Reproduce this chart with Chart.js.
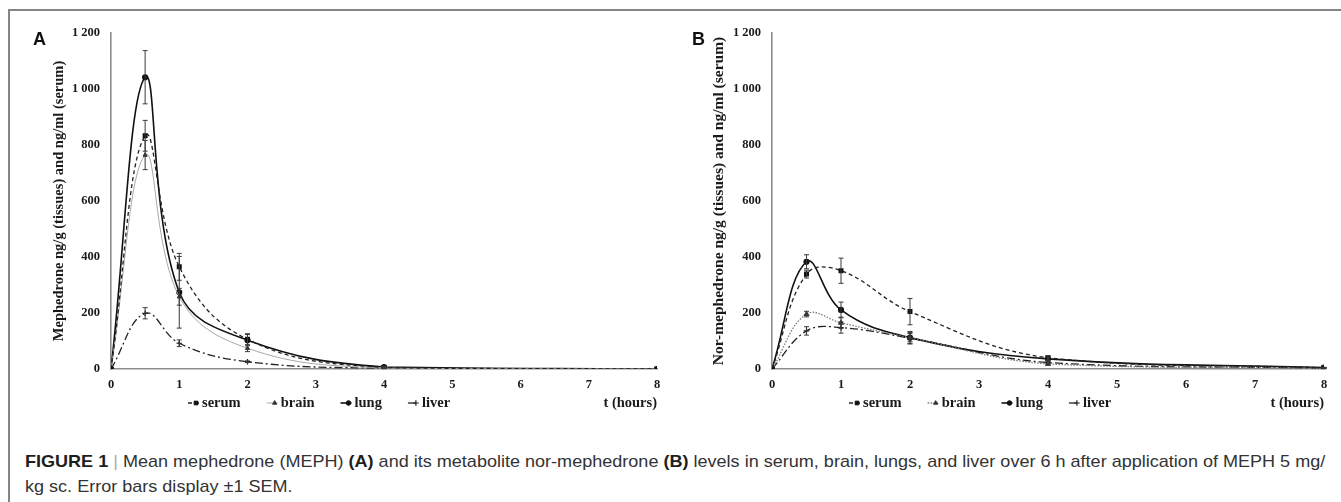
<!DOCTYPE html>
<html>
<head>
<meta charset="utf-8">
<script src="https://cdn.jsdelivr.net/npm/chart.js@4.4.1/dist/chart.umd.min.js"></script>
<style>
  body { margin: 0; background: #fff; width: 1341px; height: 502px; overflow: hidden; position: relative; }
  .frame-top { position: absolute; left: 9px; top: 9px; width: 1332px; height: 2px; background: #858585; }
  .frame-left { position: absolute; left: 8px; top: 9px; width: 2px; height: 493px; background: #858585; }
  canvas { position: absolute; top: 0; }
  #chartA { left: 0; }
  #chartB { left: 670px; }
  .panel { position: absolute; top: 30px; font: bold 18px "Liberation Sans", Arial, sans-serif; line-height: 18px; color: #111; }
  .cap-line { position: absolute; left: 25px; white-space: nowrap; font: 17px "Liberation Sans Narrow", "Liberation Sans", Arial, sans-serif;
              line-height: 25px; color: #333; transform-origin: 0 0; }
  .cap-line b { color: #1e1e1e; }
  .sep { color: #aaa; }
</style>
</head>
<body>
<div class="frame-top"></div>
<div class="frame-left"></div>
<canvas id="chartA" width="670" height="430"></canvas>
<canvas id="chartB" width="671" height="430"></canvas>
<div class="panel" style="left:33px">A</div>
<div class="panel" style="left:692px">B</div>
<div class="cap-line" id="cap1" style="top:449px"><b>FIGURE 1</b> <span class="sep">|</span> Mean mephedrone (MEPH) <b>(A)</b> and its metabolite nor-mephedrone <b>(B)</b> levels in serum, brain, lungs, and liver over 6 h after application of MEPH 5 mg/</div>
<div class="cap-line" id="cap2" style="top:474px">kg sc. Error bars display ±1 SEM.</div>

<script>
// sampling times (hours) and axis ticks
const hours = [0, 0.5, 1, 2, 4, 8];
const seriesNames = ['serum', 'brain', 'lung', 'liver'];
const yTickValues = [0, 200, 400, 600, 800, 1000, 1200];
const xTickValues = [0, 1, 2, 3, 4, 5, 6, 7, 8];

// Panel A - mephedrone
const mephSerum = [0, 833, 365, 106, 5, 0];
const mephBrain = [0, 764, 258, 74, 3, 0];
const mephLung  = [0, 1042, 274, 103, 7, 0];
const mephLiver = [0, 199, 92, 26, 3, 0];
const mephSerumSem = [0, 55, 48, 20, 3, 0];
const mephBrainSem = [0, 52, 30, 12, 2, 0];
const mephLungSem  = [0, 95, 128, 20, 3, 0];
const mephLiverSem = [0, 20, 12, 3, 1, 0];

// Panel B - nor-mephedrone
const norSerum = [0, 339, 351, 205, 40, 4];
const norBrain = [0, 196, 165, 112, 18, 2];
const norLung  = [0, 383, 211, 112, 36, 5];
const norLiver = [0, 136, 148, 110, 23, 3];
const norSerumSem = [0, 14, 45, 47, 8, 1];
const norBrainSem = [0, 10, 20, 15, 4, 1];
const norLungSem  = [0, 25, 28, 22, 6, 1];
const norLiverSem = [0, 15, 20, 20, 4, 1];

const serif = '"Liberation Serif", "Times New Roman", serif';

function points(values) {
  return hours.map((h, i) => ({ x: h, y: values[i] }));
}

function buildDatasets(values, sems, brainDash) {
  return [
    { label: seriesNames[0], data: points(values[0]), sem: sems[0],
      borderColor: '#222', borderWidth: 1.3, borderDash: [4, 3],
      pointStyle: 'rect', pointRadius: 2.6, pointBackgroundColor: '#111', pointBorderColor: '#111' },
    { label: seriesNames[1], data: points(values[1]), sem: sems[1],
      borderColor: brainDash.length ? '#7a7a7a' : '#a8a8a8', borderWidth: brainDash.length ? 1.3 : 1, borderDash: brainDash,
      pointStyle: 'triangle', pointRadius: 2.4, pointBackgroundColor: '#333', pointBorderColor: '#333' },
    { label: seriesNames[2], data: points(values[2]), sem: sems[2],
      borderColor: '#111', borderWidth: 1.6,
      pointStyle: 'circle', pointRadius: 2.3, pointBackgroundColor: '#111', pointBorderColor: '#111' },
    { label: seriesNames[3], data: points(values[3]), sem: sems[3],
      borderColor: '#222', borderWidth: 1.3, borderDash: [8, 3, 2, 3],
      pointStyle: 'cross', pointRadius: 2.8, pointBorderWidth: 1.2, pointBackgroundColor: '#222', pointBorderColor: '#222' }
  ];
}

// vertical error bars (+/- 1 SEM) drawn through the y scale
const errorBars = {
  id: 'errorBars',
  afterDatasetsDraw(chart) {
    const ctx = chart.ctx;
    const yScale = chart.scales.y;
    ctx.save();
    ctx.strokeStyle = '#3a3a3a';
    ctx.lineWidth = 1;
    chart.data.datasets.forEach((ds, i) => {
      const meta = chart.getDatasetMeta(i);
      meta.data.forEach((pt, j) => {
        const sem = ds.sem[j];
        if (!sem) return;
        const v = ds.data[j].y;
        const top = yScale.getPixelForValue(v + sem);
        const bot = yScale.getPixelForValue(v - sem);
        ctx.beginPath();
        ctx.moveTo(pt.x, top); ctx.lineTo(pt.x, bot);
        ctx.moveTo(pt.x - 2.5, top); ctx.lineTo(pt.x + 2.5, top);
        ctx.moveTo(pt.x - 2.5, bot); ctx.lineTo(pt.x + 2.5, bot);
        ctx.stroke();
      });
    });
    ctx.restore();
  }
};

// legend row under the x axis (line sample + marker + label)
const keyRow = {
  id: 'keyRow',
  afterDraw(chart) {
    const ctx = chart.ctx;
    const area = chart.chartArea;
    const y = area.bottom + 34;
    let x = area.left + 77;
    ctx.save();
    ctx.font = 'bold 14.5px ' + serif;
    ctx.textBaseline = 'middle';
    chart.data.datasets.forEach(ds => {
      ctx.strokeStyle = ds.borderColor;
      ctx.lineWidth = ds.borderWidth;
      ctx.setLineDash(ds.borderDash || []);
      ctx.beginPath();
      ctx.moveTo(x, y);
      ctx.lineTo(x + 11, y);
      ctx.stroke();
      ctx.setLineDash([]);
      ctx.fillStyle = ds.pointBackgroundColor;
      ctx.strokeStyle = ds.pointBorderColor;
      ctx.lineWidth = ds.pointBorderWidth || 1;
      Chart.helpers.drawPoint(ctx, { pointStyle: ds.pointStyle, radius: ds.pointRadius, rotation: 0, borderWidth: ds.pointBorderWidth || 1 }, x + 8, y);
      ctx.fillStyle = '#1a1a1a';
      ctx.fillText(ds.label, x + 14, y);
      x += 14 + ctx.measureText(ds.label).width + 26;
    });
    ctx.restore();
  }
};

function spaced(v) {
  return String(v).replace(/\B(?=(\d{3})+(?!\d))/g, ' ');
}

function makePanel(id, datasets, yTitle, pad, yWidth, titleSize) {
  new Chart(document.getElementById(id), {
    type: 'line',
    data: { datasets: datasets },
    plugins: [errorBars, keyRow],
    options: {
      responsive: false,
      animation: false,
      layout: { padding: pad },
      elements: { line: { tension: 0.4 } },
      plugins: { legend: { display: false }, tooltip: { enabled: false } },
      scales: {
        x: {
          type: 'linear', min: 0, max: 8,
          afterBuildTicks: s => { s.ticks = xTickValues.map(v => ({ value: v })); },
          afterFit: s => { s.height = 43; },
          grid: { display: false },
          border: { display: true, color: '#8c8c8c', width: 1.6 },
          ticks: { padding: 0, color: '#1a1a1a', font: { family: serif, size: 12.5, weight: 'bold' } },
          title: { display: true, text: 't (hours)', align: 'end', padding: 0, color: '#1a1a1a',
                   font: { family: serif, size: 14.5, weight: 'bold' } }
        },
        y: {
          min: 0, max: 1200,
          afterBuildTicks: s => { s.ticks = yTickValues.map(v => ({ value: v })); },
          afterFit: s => { s.width = yWidth; },
          grid: { display: false },
          border: { display: true, color: '#8c8c8c', width: 1.6 },
          ticks: { color: '#1a1a1a', font: { family: serif, size: 12.5, weight: 'bold' }, callback: v => spaced(v) },
          title: { display: true, text: yTitle, padding: 0, color: '#1a1a1a',
                   font: { family: serif, size: titleSize, weight: 'bold' } }
        }
      }
    }
  });
}

makePanel('chartA',
  buildDatasets([mephSerum, mephBrain, mephLung, mephLiver], [mephSerumSem, mephBrainSem, mephLungSem, mephLiverSem], []),
  'Mephedrone ng/g (tissues) and ng/ml (serum)',
  { left: 51, top: 33, right: 13, bottom: 18 }, 60, 14.5);

makePanel('chartB',
  buildDatasets([norSerum, norBrain, norLung, norLiver], [norSerumSem, norBrainSem, norLungSem, norLiverSem], [1.5, 1.5]),
  'Nor-mephedrone ng/g (tissues) and ng/ml (serum)',
  { left: 40, top: 33, right: 17, bottom: 18 }, 62, 15.5);

// squeeze the caption so the first line spans the same width as in the figure
function fitCaption() {
  const c1 = document.getElementById('cap1');
  const c2 = document.getElementById('cap2');
  const k = 1300 / c1.offsetWidth;
  c1.style.transform = 'scaleX(' + k + ')';
  c2.style.transform = 'scaleX(' + k + ')';
}
if (document.fonts && document.fonts.ready) document.fonts.ready.then(fitCaption); else fitCaption();
fitCaption();
</script>
</body>
</html>
